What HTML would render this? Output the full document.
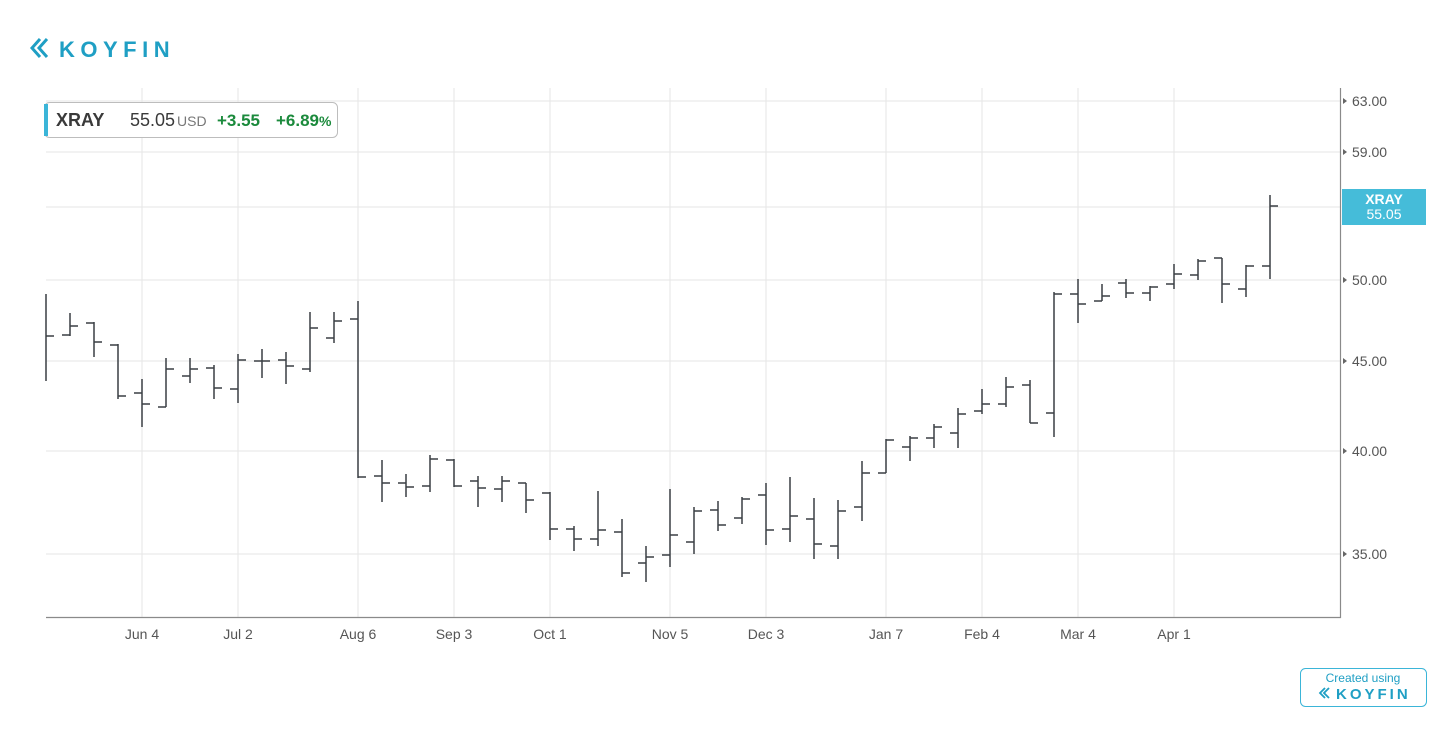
<!DOCTYPE html>
<html><head><meta charset="utf-8"><style>
body{margin:0;background:#fff;width:1456px;height:728px;overflow:hidden;font-family:"Liberation Sans",sans-serif;}
</style></head><body>
<svg width="1456" height="728" viewBox="0 0 1456 728" xmlns="http://www.w3.org/2000/svg" font-family="Liberation Sans, sans-serif">
<g fill="none" stroke="#1f9fc4" stroke-width="3">
<path d="M40 39 L32 48 L40 57"/><path d="M47 39 L39 48 L47 57"/>
</g>
<text x="59" y="57" font-size="22" font-weight="bold" fill="#1f9fc4" letter-spacing="5.5">KOYFIN</text>
<g stroke="#e6e6e6" stroke-width="1">
<path d="M46 101H1340M46 152H1340M46 207H1340M46 280H1340M46 361H1340M46 451H1340M46 554H1340"/>
<path d="M142 88V617M238 88V617M358 88V617M454 88V617M550 88V617M670 88V617M766 88V617M886 88V617M982 88V617M1078 88V617M1174 88V617"/>
</g>
<path d="M46 617.5H1340.5V88" stroke="#8a8a8a" stroke-width="1.2" fill="none"/>
<g fill="#666"><path d="M1343 98l4 3l-4 3z"/><path d="M1343 149l4 3l-4 3z"/><path d="M1343 277l4 3l-4 3z"/><path d="M1343 358l4 3l-4 3z"/><path d="M1343 448l4 3l-4 3z"/><path d="M1343 551l4 3l-4 3z"/></g>
<g font-size="14" fill="#555">
<text x="1352" y="106">63.00</text><text x="1352" y="157">59.00</text><text x="1352" y="212">55.00</text><text x="1352" y="285">50.00</text><text x="1352" y="366">45.00</text><text x="1352" y="456">40.00</text><text x="1352" y="559">35.00</text>
</g>
<g font-size="14" fill="#555" text-anchor="middle">
<text x="142" y="639">Jun 4</text><text x="238" y="639">Jul 2</text><text x="358" y="639">Aug 6</text><text x="454" y="639">Sep 3</text><text x="550" y="639">Oct 1</text><text x="670" y="639">Nov 5</text><text x="766" y="639">Dec 3</text><text x="886" y="639">Jan 7</text><text x="982" y="639">Feb 4</text><text x="1078" y="639">Mar 4</text><text x="1174" y="639">Apr 1</text>
</g>
<path fill="none" stroke="#3a3f44" stroke-width="1.5" d="M46 294V381M46 336H54 M70 313V336M62 335H70M70 326H78 M94 322V357M86 323H94M94 342H102 M118 344V399M110 345H118M118 396H126 M142 379V427M134 393H142M142 404H150 M166 358V407M158 407H166M166 369H174 M190 358V383M182 376H190M190 369H198 M214 365V399M206 368H214M214 388H222 M238 354V403M230 389H238M238 360H246 M262 349V378M254 361H262M262 361H270 M286 352V384M278 360H286M286 366H294 M310 312V372M302 369H310M310 328H318 M334 312V343M326 338H334M334 321H342 M358 301V478M350 319H358M358 477H366 M382 460V502M374 476H382M382 483H390 M406 474V497M398 483H406M406 487H414 M430 455V492M422 486H430M430 459H438 M454 459V487M446 460H454M454 486H462 M478 476V507M470 481H478M478 488H486 M502 476V502M494 489H502M502 481H510 M526 483V513M518 483H526M526 500H534 M550 492V540M542 493H550M550 529H558 M574 526V551M566 529H574M574 539H582 M598 491V546M590 539H598M598 530H606 M622 519V577M614 532H622M622 573H630 M646 546V582M638 563H646M646 557H654 M670 489V567M662 555H670M670 535H678 M694 507V554M686 542H694M694 511H702 M718 501V531M710 510H718M718 525H726 M742 497V524M734 518H742M742 499H750 M766 483V545M758 495H766M766 530H774 M790 477V542M782 529H790M790 516H798 M814 498V559M806 519H814M814 544H822 M838 500V559M830 546H838M838 511H846 M862 461V521M854 507H862M862 473H870 M886 439V473M878 473H886M886 440H894 M910 436V461M902 447H910M910 438H918 M934 424V448M926 438H934M934 427H942 M958 408V448M950 433H958M958 414H966 M982 389V414M974 411H982M982 404H990 M1006 377V407M998 404H1006M1006 387H1014 M1030 380V423M1022 385H1030M1030 423H1038 M1054 292V437M1046 413H1054M1054 294H1062 M1078 279V323M1070 294H1078M1078 304H1086 M1102 284V301M1094 301H1102M1102 296H1110 M1126 279V298M1118 283H1126M1126 293H1134 M1150 286V301M1142 293H1150M1150 287H1158 M1174 264V289M1166 284H1174M1174 274H1182 M1198 259V280M1190 275H1198M1198 261H1206 M1222 258V303M1214 258H1222M1222 284H1230 M1246 265V297M1238 289H1246M1246 266H1254 M1270 195V279M1262 266H1270M1270 206H1278"/>
<rect x="1342" y="189" width="84" height="36" fill="#45bcd9"/>
<text x="1384" y="204" font-size="14" font-weight="bold" fill="#fff" text-anchor="middle">XRAY</text>
<text x="1384" y="219" font-size="14" fill="#fff" text-anchor="middle">55.05</text>
<rect x="44.5" y="102.5" width="293" height="35" rx="5" fill="#fff" stroke="#bdbdbd"/>
<rect x="44" y="104" width="4" height="32" fill="#3bb5d8"/>
<text x="56" y="126" font-size="18" font-weight="bold" fill="#3a3a3a">XRAY</text>
<text x="130" y="126" font-size="18" fill="#3a3a3a">55.05</text>
<text x="177" y="126" font-size="14" fill="#777">USD</text>
<text x="217" y="126" font-size="17" font-weight="bold" fill="#1b8a3c">+3.55</text>
<text x="276" y="126" font-size="17" font-weight="bold" fill="#1b8a3c">+6.89<tspan font-size="14">%</tspan></text>
<rect x="1300.5" y="668.5" width="126" height="38" rx="5" fill="#fff" stroke="#3bb5d8"/>
<text x="1363" y="682" font-size="12" fill="#1f9fc4" text-anchor="middle">Created using</text>
<g fill="none" stroke="#1f9fc4" stroke-width="1.8"><path d="M1325 688 L1320 693 L1325 698"/><path d="M1329 688 L1324 693 L1329 698"/></g>
<text x="1336" y="699" font-size="15" font-weight="bold" fill="#1f9fc4" letter-spacing="3">KOYFIN</text>
</svg>
</body></html>
